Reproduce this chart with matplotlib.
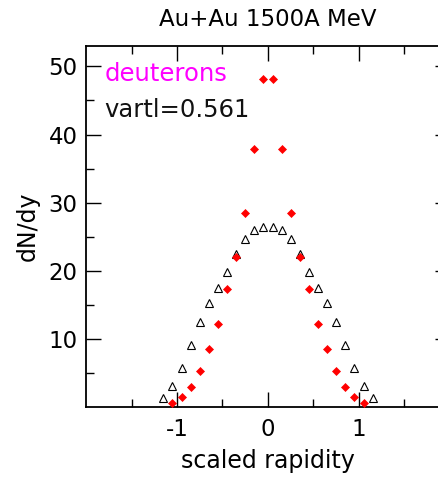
import matplotlib
matplotlib.use("Agg")
import matplotlib.pyplot as plt
from matplotlib.ticker import FixedLocator

# rapidity bins (right half; left half mirrored)
y_deut = [0.05, 0.15, 0.25, 0.35, 0.45, 0.55, 0.65, 0.75, 0.85, 0.95, 1.05]
dndy_deut = [48.1, 37.9, 28.5, 22.0, 17.3, 12.2, 8.5, 5.3, 2.9, 1.4, 0.6]

y_ref = [0.05, 0.15, 0.25, 0.35, 0.45, 0.55, 0.65, 0.75, 0.85, 0.95, 1.05, 1.15]
dndy_ref = [26.4, 26.0, 24.7, 22.5, 19.8, 17.4, 15.2, 12.5, 9.1, 5.7, 3.1, 1.35]

x_major = [-1, 0, 1]
x_minor = [-1.5, -0.5, 0.5, 1.5]
y_major = [10, 20, 30, 40, 50]
y_minor = [5, 15, 25, 35, 45]

title = "Au+Au 1500A MeV"
species = "deuterons"
param_label = "vartl=0.561"

plt.rcParams['font.family'] = ['DejaVu Sans']
plt.rcParams['axes.unicode_minus'] = False

fig = plt.figure(figsize=(4.39, 4.80), dpi=100)
ax = fig.add_axes([86 / 439, 73 / 480, 364 / 439, 361 / 480])

xr = [-v for v in y_ref[::-1]] + y_ref
yr = dndy_ref[::-1] + dndy_ref
xd = [-v for v in y_deut[::-1]] + y_deut
yd = dndy_deut[::-1] + dndy_deut

ax.plot(xr, yr, linestyle='none', marker='^', ms=6.0, mfc='white',
        mec='black', mew=0.8, zorder=3)
ax.plot(xd, yd, linestyle='none', marker='D', ms=3.8, mfc='red',
        mec='red', mew=0.5, zorder=4)

ax.set_xlim(-2, 2)
ax.set_ylim(0, 53)
ax.xaxis.set_major_locator(FixedLocator(x_major))
ax.xaxis.set_minor_locator(FixedLocator(x_minor))
ax.yaxis.set_major_locator(FixedLocator(y_major))
ax.yaxis.set_minor_locator(FixedLocator(y_minor))
ax.tick_params(which='both', direction='in', top=True, right=True,
               labelsize=16.5)
ax.tick_params(axis='x', pad=8)
ax.tick_params(axis='y', pad=6)
ax.tick_params(which='major', length=11, width=1.0)
ax.tick_params(which='minor', length=5.5, width=1.0)
for s in ax.spines.values():
    s.set_linewidth(1.3)

ax.set_xlabel("scaled rapidity", fontsize=17, labelpad=6)
ax.set_ylabel("dN/dy", fontsize=17, labelpad=6)
fig.text(268 / 439, 1 - 20 / 480, title, ha='center', va='center', fontsize=16.5)

ax.text(0.05, 0.955, species, transform=ax.transAxes, color='#ff00ff',
        fontsize=17.5, va='top', ha='left')
ax.text(0.05, 0.855, param_label, transform=ax.transAxes, color='#111111',
        fontsize=17.5, va='top', ha='left')

fig.savefig("out.png", dpi=100)
